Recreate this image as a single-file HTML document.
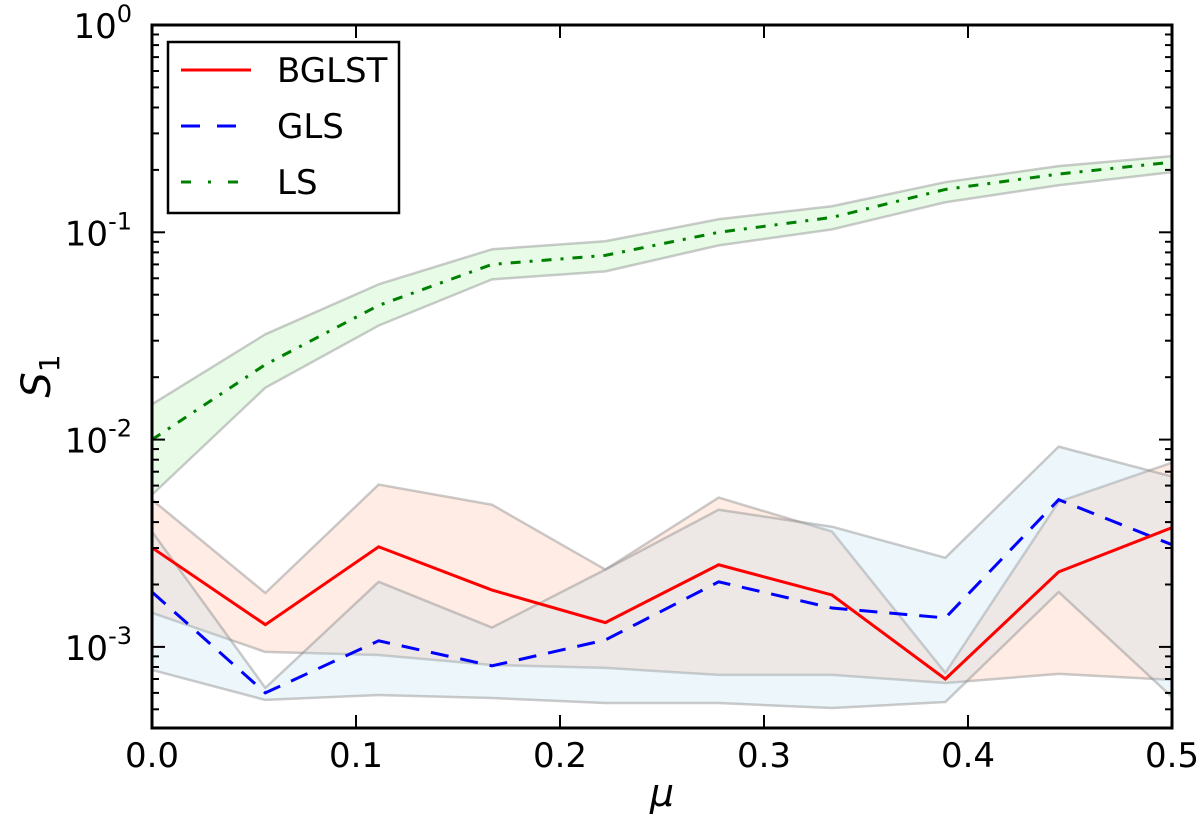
<!DOCTYPE html>
<html><head><meta charset="utf-8"><style>
body{margin:0;background:#fff;}
svg{display:block;font-family:"DejaVu Sans","Liberation Sans",sans-serif;}
</style></head><body>
<svg id="chart" width="1200" height="816" viewBox="0 0 1200 816">
<g id="bands"></g><g id="lines"></g><g id="axes"></g>
</svg>
<script>
const xs = [0, 1/18, 2/18, 3/18, 4/18, 5/18, 6/18, 7/18, 8/18, 0.5];
const bglst = [0.00301,0.00128,0.00304,0.00188,0.00131,0.00249,0.00178,0.0007,0.0023,0.00376];
const gls = [0.00184,0.0006,0.00107,0.00081,0.00108,0.00206,0.00154,0.00138,0.00513,0.00311];
const ls = [0.01,0.023,0.0444,0.070,0.0774,0.1,0.118,0.161,0.191,0.218];
const lsHi = [0.0148,0.0322,0.0561,0.0828,0.0905,0.1156,0.1336,0.1745,0.2086,0.233];
const lsLo = [0.00542,0.0178,0.0355,0.0593,0.0648,0.0865,0.1033,0.1396,0.1686,0.195];
const bgHi = [0.00513,0.00182,0.00607,0.00485,0.00236,0.00525,0.0036,0.00075,0.00501,0.00774];
const bgLo = [0.00146,0.000946,0.000914,0.000818,0.000792,0.000733,0.000733,0.00067,0.000741,0.000693];
const glHi = [0.0036,0.000634,0.00206,0.00124,0.00236,0.00459,0.0038,0.00269,0.00925,0.00663];
const glLo = [0.000774,0.000555,0.000586,0.000567,0.000536,0.000536,0.000507,0.000542,0.00184,0.000573];
const xTicks = [0,0.1,0.2,0.3,0.4,0.5];
const xTickLabels = ["0.0","0.1","0.2","0.3","0.4","0.5"];
const yDecades = [0,-1,-2,-3];

const L=152,R=1172,T=25,B=728,DEC=207.3;
const X=v=>L+(v-0)/0.5*(R-L);
const Y=v=>T-Math.log10(v)*DEC;
const NS="http://www.w3.org/2000/svg";
function mk(tag,attrs,parent){const e=document.createElementNS(NS,tag);for(const k in attrs)e.setAttribute(k,attrs[k]);parent.appendChild(e);return e;}
const bands=document.getElementById('bands'),lines=document.getElementById('lines'),axes=document.getElementById('axes');

function band(hi,lo,fill,name){
  let d='M'+xs.map((x,i)=>X(x)+','+Y(hi[i])).join('L')+'L'+xs.map((x,i)=>X(x)+','+Y(lo[i])).reverse().join('L')+'Z';
  const p=mk('path',{d:d,fill:fill,stroke:'rgba(140,140,140,0.45)','stroke-width':2.5,'stroke-linejoin':'round'},bands);
  
  
}
band(lsHi,lsLo,'rgba(144,238,144,0.22)','ls-band');
band(bgHi,bgLo,'rgba(255,160,122,0.2)','bglst-band');
band(glHi,glLo,'rgba(173,216,230,0.22)','gls-band');

function line(vals,color,dash,name){
  const p=mk('polyline',{points:xs.map((x,i)=>X(x)+','+Y(vals[i])).join(' '),fill:'none',stroke:color,'stroke-width':3,'stroke-dasharray':dash},lines);
  
  
}
line(ls,'#008000','10 9 3 9','ls-line');
line(gls,'#0000ff','18 12','gls-line');
line(bglst,'#ff0000','none','bglst-line');

const fr=mk('rect',{x:L,y:T,width:R-L,height:B-T,fill:'none',stroke:'#000','stroke-width':3},axes);


xTicks.forEach((t,i)=>{
  const x=X(t);
  mk('line',{x1:x,y1:B,x2:x,y2:B-13,stroke:'#000','stroke-width':2},axes);
  mk('line',{x1:x,y1:T,x2:x,y2:T+13,stroke:'#000','stroke-width':2},axes);
  const tx=mk('text',{x:x,y:767,'font-size':34,'text-anchor':'middle'},axes);
  tx.textContent=xTickLabels[i];
  
  
});
yDecades.forEach(d=>{
  const y=Y(Math.pow(10,d));
  mk('line',{x1:L,y1:y,x2:L+13,y2:y,stroke:'#000','stroke-width':2},axes);
  mk('line',{x1:R,y1:y,x2:R-13,y2:y,stroke:'#000','stroke-width':2},axes);
  const tx=mk('text',{x:L-20,y:y+13,'font-size':34,'text-anchor':'end'},axes);
  tx.innerHTML='10<tspan dy="-16" font-size="24">'+d+'</tspan>';
  
  
  for(let m=2;m<=9;m++){
    const yy=Y(m*Math.pow(10,d-1));
    if(yy>B||yy<T)continue;
    mk('line',{x1:L,y1:yy,x2:L+7,y2:yy,stroke:'#000','stroke-width':2},axes);
    mk('line',{x1:R,y1:yy,x2:R-7,y2:yy,stroke:'#000','stroke-width':2},axes);
  }
});
const xl=mk('text',{x:(L+R)/2,y:806,'font-size':38,'font-style':'italic','text-anchor':'middle'},axes);
xl.textContent='μ';


const yl=mk('text',{x:0,y:0,'font-size':40,'font-style':'italic',transform:'translate(50,376) rotate(-90)','text-anchor':'middle'},axes);
yl.innerHTML='S<tspan dy="9" font-size="28" font-style="normal">1</tspan>';


const lg=mk('g',{},axes);


mk('rect',{x:168,y:42,width:231,height:171,fill:'#fff',stroke:'#000','stroke-width':2.5},lg);
[['BGLST','#ff0000','none',70],['GLS','#0000ff','19 17',126],['LS','#008000','10 17 3 17',182]].forEach(e=>{
  const g=mk('g',{},lg);
  
  
  mk('line',{x1:181,y1:e[3],x2:251,y2:e[3],stroke:e[1],'stroke-width':3,'stroke-dasharray':e[2]},g);
  const t=mk('text',{x:277,y:e[3]+12,'font-size':34},g);
  t.textContent=e[0];
});
</script>
</body></html>
